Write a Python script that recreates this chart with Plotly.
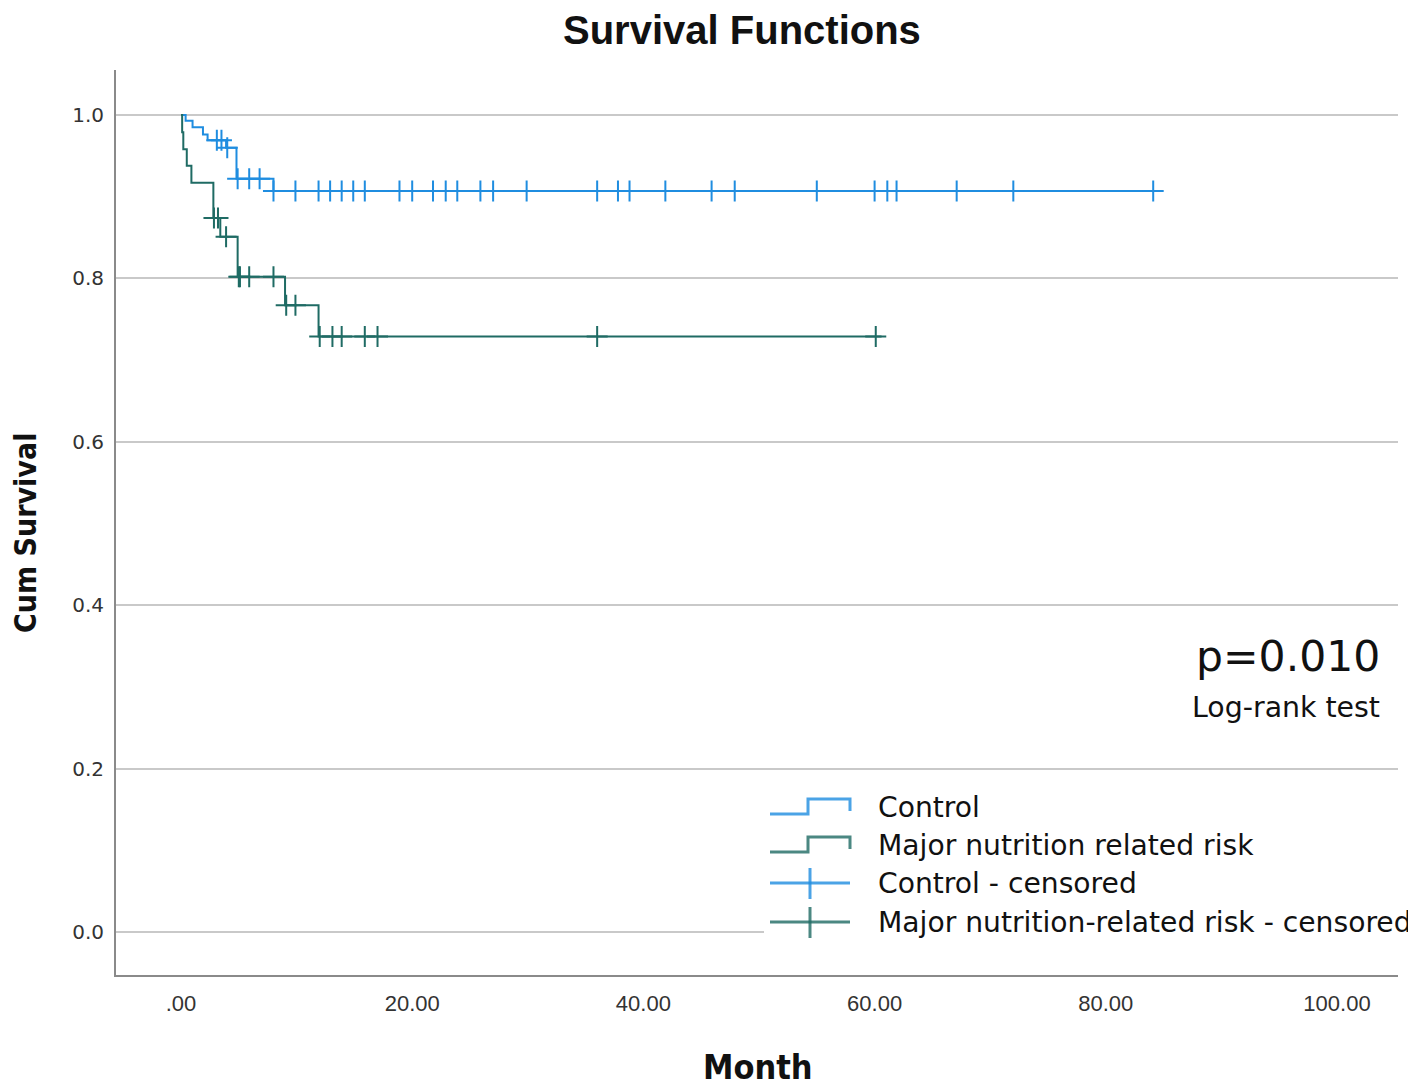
import numpy as np
import plotly.graph_objects as go

# ---- data ----
control_step_time = [0.0, 0.4, 1.0, 1.9, 2.3, 3.9, 4.8, 8.0, 84.3]
control_step_surv = [1.0, 0.993, 0.985, 0.976, 0.969, 0.960, 0.922, 0.907, 0.907]
control_censored = [3.1, 3.5, 4.0, 4.9, 5.9, 6.8, 8.0, 9.9, 11.9, 12.9, 13.9, 14.9, 15.9,
                    18.9, 20.0, 21.8, 22.9, 23.9, 25.9, 27.0, 29.9, 36.0, 37.8, 38.8,
                    41.9, 45.9, 47.9, 55.0, 60.0, 61.1, 61.9, 67.1, 72.0, 84.1]

major_step_time = [0.0, 0.1, 0.2, 0.5, 0.9, 2.8, 3.4, 4.9, 9.0, 11.9, 60.6]
major_step_surv = [1.0, 0.979, 0.958, 0.938, 0.917, 0.874, 0.851, 0.802, 0.767, 0.729, 0.729]
major_censored = [2.85, 3.2, 3.9, 5.0, 5.1, 5.9, 8.0, 9.1, 9.9, 12.0, 13.1, 13.9, 15.9,
                  17.0, 36.0, 60.1]

x_tick_vals = [0, 20, 40, 60, 80, 100]
x_tick_text = [".00", "20.00", "40.00", "60.00", "80.00", "100.00"]
y_tick_vals = [0.0, 0.2, 0.4, 0.6, 0.8, 1.0]
y_tick_text = ["0.0", "0.2", "0.4", "0.6", "0.8", "1.0"]

legend_labels = ["Control", "Major nutrition related risk", "Control - censored",
                 "Major nutrition-related risk - censored"]

BLUE = "#1f8de0"
TEAL = "#1f6b64"


def surv_at(times, step_t, step_s):
    idx = np.searchsorted(np.array(step_t), np.array(times), side="right") - 1
    return [step_s[i] for i in idx]


fig = go.Figure()
fig.add_trace(go.Scatter(x=control_step_time, y=control_step_surv, mode="lines",
                         line=dict(color=BLUE, width=2, shape="hv"), showlegend=False,
                         name=legend_labels[0]))
fig.add_trace(go.Scatter(x=major_step_time, y=major_step_surv, mode="lines",
                         line=dict(color=TEAL, width=2, shape="hv"), showlegend=False,
                         name=legend_labels[1]))
fig.add_trace(go.Scatter(x=control_censored,
                         y=surv_at(control_censored, control_step_time, control_step_surv),
                         mode="markers", showlegend=False, name=legend_labels[2],
                         marker=dict(symbol="cross-thin", size=15,
                                     line=dict(color=BLUE, width=2))))
fig.add_trace(go.Scatter(x=major_censored,
                         y=surv_at(major_censored, major_step_time, major_step_surv),
                         mode="markers", showlegend=False, name=legend_labels[3],
                         marker=dict(symbol="cross-thin", size=15,
                                     line=dict(color=TEAL, width=2))))

# ---- pixel helpers (page pixels; page has an 8px body margin) ----
OFF = 8
W, H = 1416 - OFF, 1088 - OFF
L, R, T, B = 116, 1398, 70, 975


def px(x):
    return (x - L) / (R - L)


def py(y):
    return (B - y) / (B - T)


shapes = []
# white legend background covering grid
shapes.append(dict(type="rect", xref="paper", yref="paper", x0=px(764), x1=px(1420),
                   y0=py(948), y1=py(786), fillcolor="white", line=dict(width=0),
                   layer="above"))
row_y = [807, 845, 883, 922]
cols = [BLUE, TEAL, BLUE, TEAL]
for i in range(2):
    yc = row_y[i]
    path = "M {},{} L {},{} L {},{} L {},{} L {},{}".format(
        px(770), py(yc + 7), px(808), py(yc + 7), px(808), py(yc - 8),
        px(850), py(yc - 8), px(850), py(yc + 4))
    shapes.append(dict(type="path", xref="paper", yref="paper", path=path,
                       line=dict(color=cols[i], width=3), opacity=0.8, layer="above"))
for i in range(2, 4):
    yc = row_y[i]
    shapes.append(dict(type="line", xref="paper", yref="paper", x0=px(770), x1=px(850),
                       y0=py(yc), y1=py(yc), line=dict(color=cols[i], width=3),
                       opacity=0.8, layer="above"))
    shapes.append(dict(type="line", xref="paper", yref="paper", x0=px(810), x1=px(810),
                       y0=py(yc - 15), y1=py(yc + 16), line=dict(color=cols[i], width=3),
                       opacity=0.8, layer="above"))

annotations = []
for i, lab in enumerate(legend_labels):
    annotations.append(dict(text=lab, xref="paper", yref="paper", x=px(876), y=py(row_y[i]),
                            xanchor="left", yanchor="middle", showarrow=False,
                            font=dict(family="DejaVu Sans", size=28.2, color="#111111")))
annotations.append(dict(text="p=0.010", xref="paper", yref="paper", x=px(1382), y=py(656),
                        xanchor="right", yanchor="middle", showarrow=False,
                        font=dict(family="DejaVu Sans", size=42.5, color="#111111")))
annotations.append(dict(text="Log-rank test", xref="paper", yref="paper", x=px(1382),
                        y=py(707), xanchor="right", yanchor="middle", showarrow=False,
                        font=dict(family="DejaVu Sans", size=28.4, color="#111111")))
annotations.append(dict(text="<b>Survival Functions</b>", xref="paper", yref="paper",
                        x=px(742), y=py(30), xanchor="center", yanchor="middle",
                        showarrow=False,
                        font=dict(family="Liberation Sans", size=40, color="#111111")))
annotations.append(dict(text="<b>Month</b>", xref="paper", yref="paper",
                        x=px(758), y=py(1067), xanchor="center", yanchor="middle",
                        showarrow=False,
                        font=dict(family="DejaVu Sans Condensed", size=34, color="#111111")))
annotations.append(dict(text="<b>Cum Survival</b>", xref="paper", yref="paper",
                        x=px(25), y=py(533), xanchor="center", yanchor="middle",
                        textangle=-90, showarrow=False,
                        font=dict(family="DejaVu Sans Condensed", size=30, color="#111111")))

fig.update_layout(
    width=W, height=H,
    margin=dict(l=L - OFF, r=1416 - R, t=T - OFF, b=1088 - B),
    paper_bgcolor="white", plot_bgcolor="white",
    shapes=shapes, annotations=annotations,
    xaxis=dict(range=[(L - 181) / 11.56, (R - 181) / 11.56], tickvals=x_tick_vals,
               ticktext=x_tick_text, showgrid=False, zeroline=False, showline=True,
               linecolor="#8a8a8a", linewidth=2, ticks="", ticklabelstandoff=8,
               tickfont=dict(family="Liberation Sans", size=22, color="#333333")),
    yaxis=dict(range=[(932 - B) / 817, (932 - T) / 817], tickvals=y_tick_vals,
               ticktext=y_tick_text, showgrid=True, gridcolor="#c9c9c9", gridwidth=2,
               zeroline=False, showline=True, linecolor="#8a8a8a", linewidth=2,
               ticks="", ticklabelstandoff=6,
               tickfont=dict(family="DejaVu Sans", size=20, color="#333333")),
)

fig.write_html("out.html")
